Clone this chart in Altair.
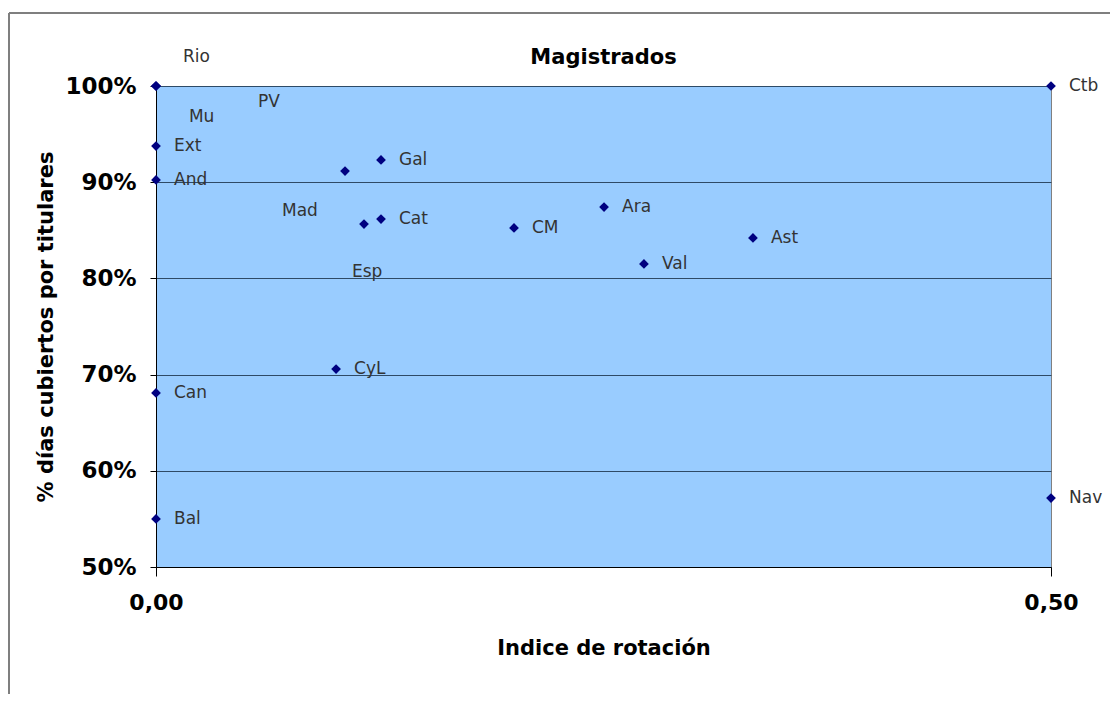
import altair as alt
import pandas as pd

regions = ["Rio", "Mu", "PV", "Ext", "And", "Mad", "Gal", "Esp", "Cat", "CM",
           "Ara", "Val", "Ast", "CyL", "Can", "Bal", "Nav", "Ctb"]
rotation = [0.0, 0.0, 0.0, 0.0, 0.0, 0.1056, 0.1257, 0.1162, 0.1257, 0.2000,
            0.2503, 0.2726, 0.3335, 0.1006, 0.0, 0.0, 0.5, 0.5]
coverage = [1.0, 1.0, 1.0, 0.9376, 0.9023, 0.9116, 0.9231, 0.8565, 0.8617, 0.8524,
            0.8742, 0.8150, 0.8420, 0.7058, 0.6809, 0.5499, 0.5717, 1.0]

# labels that were moved away from their point in the original (data units)
moved_labels = {
    "Rio": (0.0151, 1.0301),
    "Mu": (0.0184, 0.9678),
    "PV": (0.0570, 0.9834),
    "Mad": (0.0704, 0.8700),
    "Esp": (0.1095, 0.8067),
}

df = pd.DataFrame({"region": regions, "rot": rotation, "cov": coverage})
df["lx"] = [moved_labels[r][0] if r in moved_labels else x for r, x in zip(regions, rotation)]
df["ly"] = [moved_labels[r][1] if r in moved_labels else y for r, y in zip(regions, coverage)]
df["moved"] = [r in moved_labels for r in regions]

FONT = "DejaVu Sans"

x_scale = alt.Scale(domain=[0, 0.5], nice=False, zero=False)
y_scale = alt.Scale(domain=[0.5, 1.0], nice=False, zero=False)

base = alt.Chart(df)

points = base.mark_point(shape="diamond", filled=True, color="#000080", size=95, opacity=1).encode(
    x=alt.X("rot:Q", scale=x_scale,
            axis=alt.Axis(title="Indice de rotación", values=[0, 0.5],
                          labelExpr="replace(format(datum.value, '.2f'), '.', ',')",
                          labelFlush=False,
                          grid=False, domainColor="#000000", tickColor="#000000",
                          tickSize=9, labelFontSize=22, labelFontWeight="bold",
                          labelFont=FONT, labelColor="#000000", labelPadding=16,
                          titleFont=FONT, titleFontSize=21, titleFontWeight="bold",
                          titleColor="#000000", titlePadding=24)),
    y=alt.Y("cov:Q", scale=y_scale,
            axis=alt.Axis(title="% días cubiertos por titulares", values=[0.5, 0.6, 0.7, 0.8, 0.9, 1.0],
                          format=".0%", grid=True, gridColor="#2e4a66", gridWidth=1.2,
                          labelFlush=False,
                          domainColor="#000000", tickColor="#000000", tickSize=6,
                          labelFontSize=23, labelFontWeight="bold", labelFont=FONT,
                          labelColor="#000000", labelPadding=14,
                          titleFont=FONT, titleFontSize=21, titleFontWeight="bold",
                          titleColor="#000000", titlePadding=8)),
)

labels_std = base.transform_filter("!datum.moved").mark_text(
    align="left", baseline="middle", dx=18, font=FONT, fontSize=17, color="#333333"
).encode(x=alt.X("lx:Q", scale=x_scale), y=alt.Y("ly:Q", scale=y_scale), text="region:N")

labels_moved = base.transform_filter("datum.moved").mark_text(
    align="left", baseline="middle", font=FONT, fontSize=17, color="#333333"
).encode(x=alt.X("lx:Q", scale=x_scale), y=alt.Y("ly:Q", scale=y_scale), text="region:N")

one = pd.DataFrame({"a": [0]})
frame_top = alt.Chart(one).mark_rule(stroke="#7f7f7f", strokeWidth=2).encode(
    x=alt.value(-147), x2=alt.value(1000), y=alt.value(-73)
)
frame_left = alt.Chart(one).mark_rule(stroke="#7f7f7f", strokeWidth=2).encode(
    x=alt.value(-147), y=alt.value(-73), y2=alt.value(700)
)

title_text = alt.Chart(pd.DataFrame({"t": ["Magistrados"]})).mark_text(
    font=FONT, fontSize=21, fontWeight="bold", color="#000000", align="center", baseline="middle"
).encode(x=alt.value(447.5), y=alt.value(-28), text="t:N")

chart = alt.layer(frame_top, frame_left, points, labels_std, labels_moved, title_text).properties(
    width=895, height=481,
    autosize=alt.AutoSizeParams(type="none"),
    padding={"left": 148, "top": 78, "right": 59, "bottom": 127},
    background="#ffffff",
).configure_view(
    fill="#99CCFF", stroke="#808080", strokeWidth=1
)

chart.save("out.html", embed_options={"renderer": "svg", "actions": False})
